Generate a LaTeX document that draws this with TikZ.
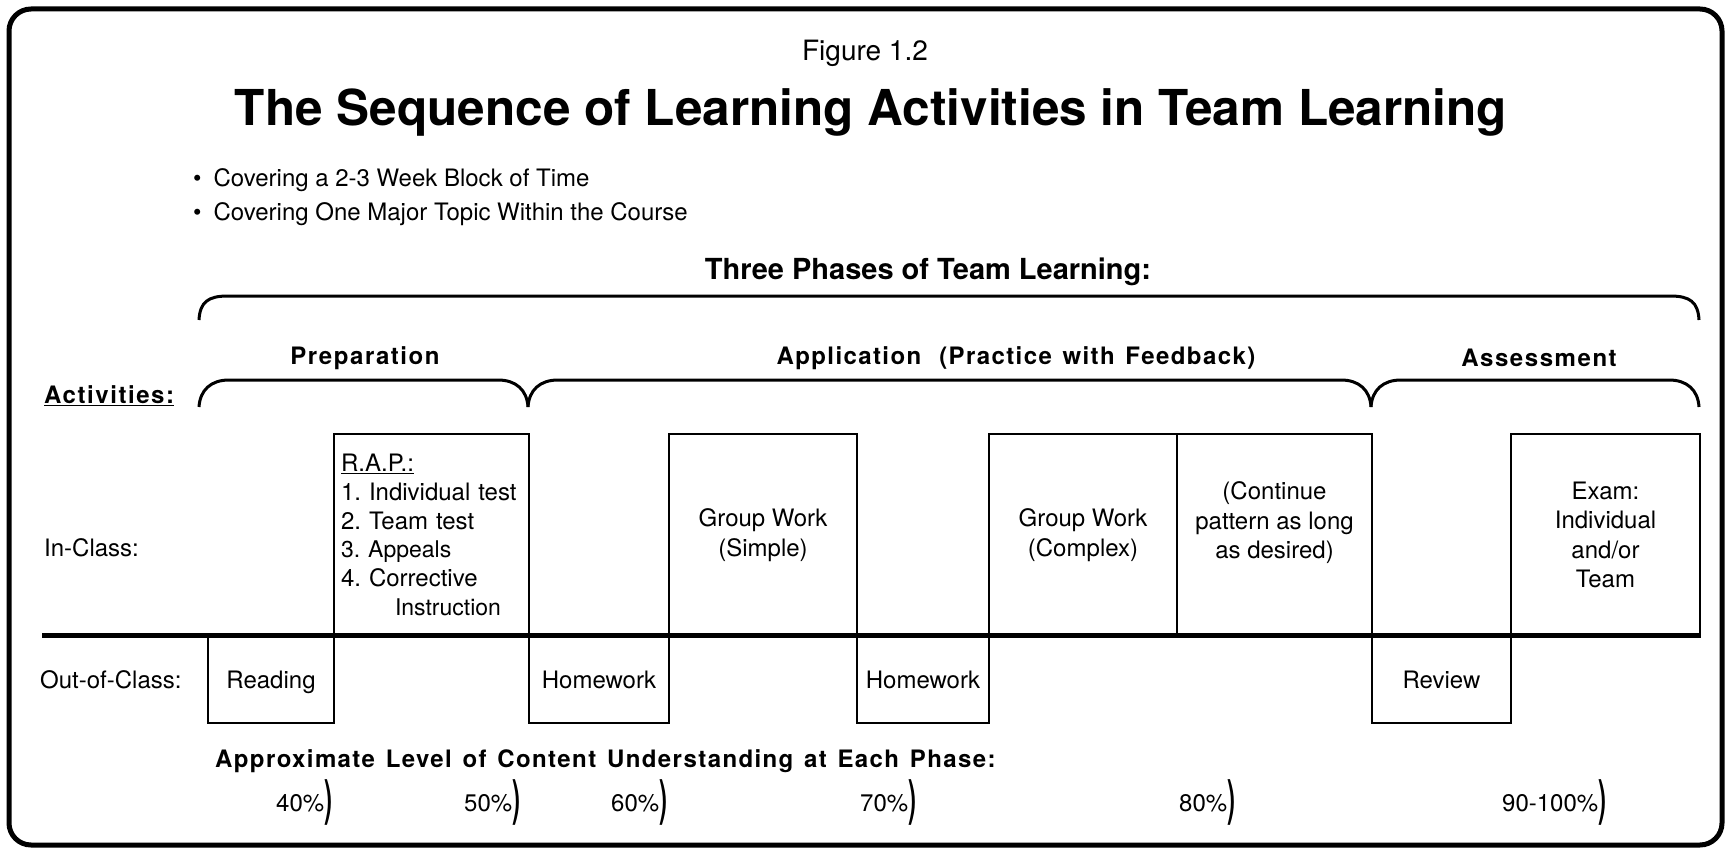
\documentclass[tikz,border=0pt]{standalone}
\usepackage{fontspec}
\usepackage{graphicx}
\setmainfont{TeX Gyre Heros}
\newfontfamily\spacedfont{TeX Gyre Heros}[LetterSpace=6.5,WordSpace=2]
\newfontfamily\spacedfontb{TeX Gyre Heros}[LetterSpace=5.8,WordSpace=1.33]
\usetikzlibrary{positioning}
\newcommand{\grandeparen}{\raisebox{-4pt}{\scalebox{1}[2.05]{\bfseries )}}}
\frenchspacing

\begin{document}
\begin{tikzpicture}[
		x=1pt, y=-1pt,
		txt/.style={inner sep=0pt, font=\fontsize{24}{29}\selectfont},
		spaced/.style={inner sep=0pt, font=\fontsize{24}{29}\selectfont\spacedfont\bfseries},
		spacedb/.style={inner sep=0pt, font=\fontsize{24}{29}\selectfont\spacedfontb\bfseries},
		box/.style={draw, line width=2pt, inner sep=0pt, align=center, font=\fontsize{24}{29.5}\selectfont},
		inbox/.style={box, anchor=north west, minimum height=202pt},
		outbox/.style={box, anchor=north west, minimum height=87pt, text height=17pt, text depth=0pt},
		brace/.style={line width=3pt},
		pct/.style={txt, anchor=base west}
		]
		\useasboundingbox (0,0) rectangle (1730,851);
		
		% Le cadre
		\draw[line width=5pt, rounded corners=22pt] (9,9) rectangle (1722,845);
		
		% Les titres
		\node[txt, font=\fontsize{28}{34}\selectfont] (fig) at (865,53) {Figure 1.2};
		\node[txt, font=\fontsize{49.5}{58}\selectfont\bfseries] (titre) at (871,112) {The Sequence of Learning Activities in Team Learning};
		\node[txt, anchor=west] (puce1) at (193,180) {\textbullet\hspace{12pt}Covering a 2-3 Week Block of Time};
		\node[txt, anchor=west] (puce2) at (193,214) {\textbullet\hspace{12pt}Covering One Major Topic Within the Course};
		\node[txt, font=\fontsize{29}{35}\selectfont\bfseries] (phases) at (928,272) {Three Phases of Team Learning:};
		
		% Les accolades
		\draw[brace] (199,320) .. controls (200,302) and (208,296) .. (228,296) -- (1670,296) .. controls (1690,296) and (1698,302) .. (1699,320);
		\foreach \a/\b in {199/528, 528/1371, 1371/1699}
		\draw[brace] (\a,407) .. controls (\a+1,390) and (\a+12,380) .. (\a+30,380) -- (\b-30,380) .. controls (\b-12,380) and (\b-1,390) .. (\b,407);
		\node[spaced] (prep) at (365,358) {Preparation};
		\node[spacedb] (appl) at (1016,358) {Application\hspace{18pt}(Practice with Feedback)};
		\node[spaced] (eval) at (1539,358) {Assessment};
		\node[spaced, anchor=west] (activ) at (44,396) {\underline{Activities:}};
		
		% Les lignes
		\node[txt, anchor=west] (inclass) at (44,548) {In-Class:};
		\node[txt, anchor=west] (outclass) at (40,680) {Out-of-Class:};
		
		% Les cases en classe
		\node[inbox, minimum width=195pt, text width=181pt, inner xsep=7pt, align=left, font=\fontsize{24}{28.8}\selectfont] (rap) at (333,433) {\underline{R.A.P.:}\\
			1. Individual test\\
			2. Team test\\
			{\fontsize{23}{28.8}\selectfont 3. Appeals}\\
			4. Corrective\\
			\hspace*{54pt}{\fontsize{23}{28.8}\selectfont Instruction}};
		\node[inbox, minimum width=188pt] (gws) at (668,433) {Group Work\\(Simple)};
		\node[inbox, minimum width=188pt] (gwc) at (988,433) {Group Work\\(Complex)};
		\node[inbox, minimum width=195pt] (cont) at (1176,433) {(Continue\\pattern as long\\as desired)\\\mbox{}};
		\node[inbox, minimum width=189pt] (exam) at (1510,433) {Exam:\\Individual\\and/or\\Team};
		
		% Les cases hors classe
		\node[outbox, minimum width=126pt] (read) at (207,635) {Reading};
		\node[outbox, minimum width=140pt] (hw1) at (528,635) {Homework};
		\node[outbox, minimum width=132pt] (hw2) at (856,635) {Homework};
		\node[outbox, minimum width=139pt] (rev) at (1371,635) {Review};
		
		% La ligne de separation
		\coordinate (sepG) at (42,635);
		\coordinate (sepD) at (1701,635);
		\draw[line width=5pt] (sepG) -- (sepD);
		
		% Les niveaux
		\node[spacedb, anchor=west] (niveau) at (215,761) {Approximate Level of Content Understanding at Each Phase:};
		\node[pct] (p40) at (276,811) {40\%\grandeparen};
		\node[pct] (p50) at (464,811) {50\%\grandeparen};
		\node[pct] (p60) at (611,811) {60\%\grandeparen};
		\node[pct] (p70) at (860,811) {70\%\grandeparen};
		\node[pct] (p80) at (1179,811) {80\%\grandeparen};
		\node[pct] (p90) at (1502,811) {90-100\%\grandeparen};
	\end{tikzpicture}
\end{document}
